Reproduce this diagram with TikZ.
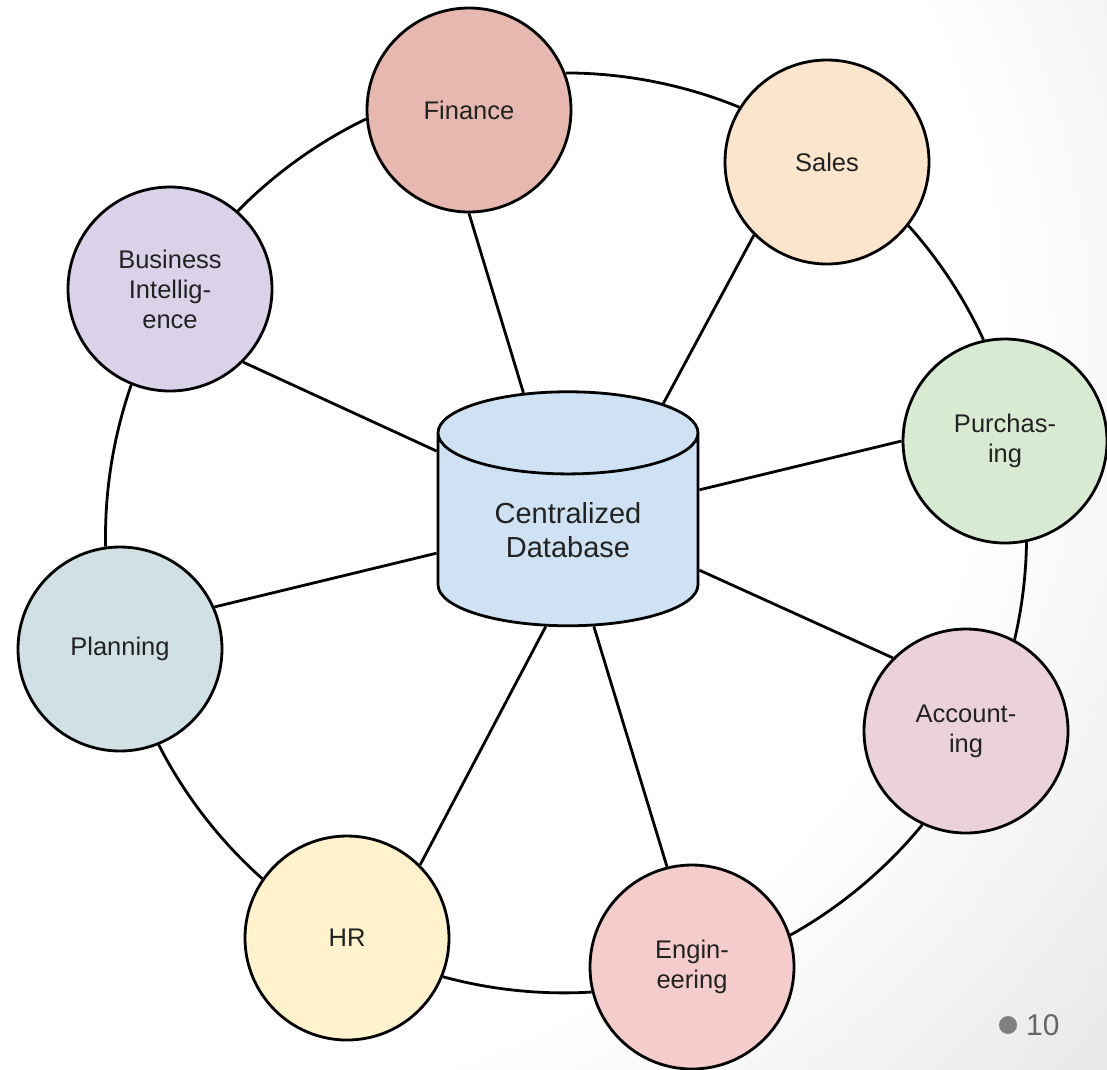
\documentclass[tikz,border=0pt]{standalone}
\usepackage{fontspec}
\setmainfont{Liberation Sans}
\usepackage{tikz}
\usetikzlibrary{shapes.geometric}

\definecolor{cfin}{HTML}{E6B8AF}
\definecolor{csal}{HTML}{FCE5CD}
\definecolor{cpur}{HTML}{D9EAD3}
\definecolor{cacc}{HTML}{EAD1DC}
\definecolor{ceng}{HTML}{F4CCCC}
\definecolor{chr}{HTML}{FFF2CC}
\definecolor{cpla}{HTML}{D0E0E3}
\definecolor{cbi}{HTML}{D9D2E9}
\definecolor{cdb}{HTML}{CFE2F3}
\definecolor{ink}{HTML}{222222}

\pgfdeclareradialshading{slidebg}{\pgfpoint{-25bp}{15bp}}{color(0bp)=(white); color(36bp)=(white); color(65bp)=(black!19); color(100bp)=(black!19)}

\tikzset{
  dept/.style={circle, draw=black, line width=2.8pt, minimum size=204pt, inner sep=0pt,
    align=center, text=ink, font=\fontsize{25.5}{30}\selectfont},
  store/.style={cylinder, shape border rotate=90, aspect=0.56, draw=black, line width=2.8pt,
    fill=cdb, minimum width=260pt, minimum height=234pt, inner sep=0pt,
    align=center, text=ink, font=\fontsize{29}{34}\selectfont},
  ring/.style={line width=2.8pt, looseness=0.85},
  spoke/.style={line width=2.8pt}
}

\begin{document}
\begin{tikzpicture}[x=1pt,y=1pt,yscale=-1,xscale=1]
\useasboundingbox (0,0) rectangle (1107,1069);
\shade[shading=slidebg] (0,0) rectangle (1107,1069);

% centre
\node[store] (db) at (568,530) {Centralized\\Database};

% departments
\node[dept, fill=cfin] (fin) at (469,110) {Finance};
\node[dept, fill=csal] (sal) at (827,162) {Sales};
\node[dept, fill=cpur] (pur) at (1005,441) {Purchas-\\ing};
\node[dept, fill=cacc] (acc) at (966,731) {Account-\\ing};
\node[dept, fill=ceng] (eng) at (692,967) {Engin-\\eering};
\node[dept, fill=chr] (hr) at (347,938) {HR};
\node[dept, fill=cpla] (pla) at (120,649) {Planning};
\node[dept, fill=cbi] (bi) at (170,289) {Business\\Intellig-\\ence};

% outer ring
\draw[ring] (fin.21) to[bend right=11.2] (sal.148);
\draw[ring] (sal.-38) to[bend right=8.6] (pur.102);
\draw[ring] (pur.-78) to[bend right=6.2] (acc.62);
\draw[ring] (acc.-115) to[bend right=10.8] (eng.18);
\draw[ring] (eng.194) to[bend right=9.4] (hr.-22);
\draw[ring] (hr.145) to[bend right=10.7] (pla.-68);
\draw[ring] (pla.98) to[bend right=10.3] (bi.-112);
\draw[ring] (bi.49) to[bend right=9.9] (fin.185);

% spokes
\draw[spoke] (fin.south) -- (db.108);
\draw[spoke] (sal.south west) -- (db.53);
\draw[spoke] (pur.west) -- (db.17);
\draw[spoke] (acc.north west) -- (db.-17);
\draw[spoke] (eng.104) -- (db.-75);
\draw[spoke] (hr.north east) -- (db.-103);
\draw[spoke] (pla.24) -- (db.-170);
\draw[spoke] (bi.south east) -- (db.149);

% slide number
\node[circle, fill=black!50, minimum size=18pt, inner sep=0pt] (dot) at (1008,1025) {};
\node[anchor=west, text=black!60, font=\fontsize{30}{30}\selectfont, inner sep=0pt] (num) at (1026,1025) {10};

\end{tikzpicture}
\end{document}
